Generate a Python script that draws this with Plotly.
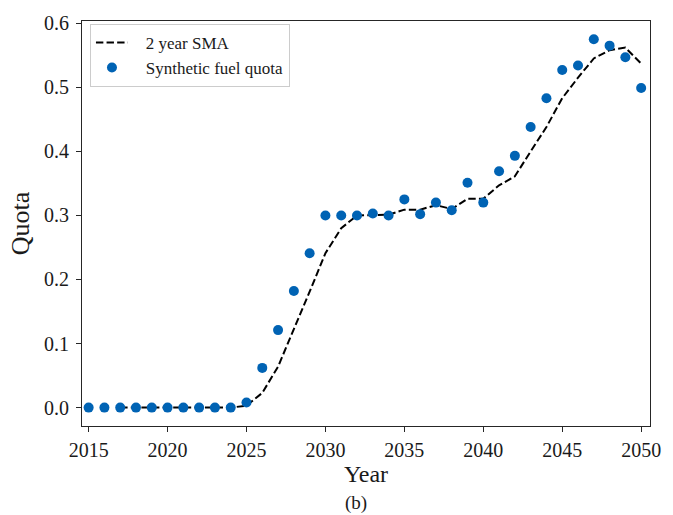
import plotly.graph_objects as go

# Annual synthetic fuel quota
years = list(range(2015, 2051))
quota = [
    0.0, 0.0, 0.0, 0.0, 0.0, 0.0, 0.0, 0.0, 0.0, 0.0,   # 2015-2024
    0.008, 0.062, 0.121, 0.182, 0.241,                    # 2025-2029
    0.300, 0.300, 0.300, 0.303, 0.300,                    # 2030-2034
    0.325, 0.302, 0.320, 0.308, 0.351,                    # 2035-2039
    0.320, 0.369, 0.393, 0.438, 0.483,                    # 2040-2044
    0.527, 0.534, 0.575, 0.565, 0.547,                    # 2045-2049
    0.499,                                                # 2050
]

# Moving-average curve, 2017-2050
sma_years = list(range(2017, 2051))
sma_values = [
    0.0, 0.0, 0.0, 0.0, 0.0, 0.0, 0.0, 0.0,               # 2017-2024
    0.003, 0.023, 0.064, 0.122, 0.181,                     # 2025-2029
    0.241, 0.280, 0.300, 0.301, 0.301,                     # 2030-2034
    0.309, 0.309, 0.316, 0.310, 0.326,                     # 2035-2039
    0.326, 0.347, 0.361, 0.400, 0.438,                     # 2040-2044
    0.483, 0.515, 0.545, 0.558, 0.562,                     # 2045-2049
    0.537,                                                 # 2050
]

x_ticks = [2015, 2020, 2025, 2030, 2035, 2040, 2045, 2050]
y_ticks = [0.0, 0.1, 0.2, 0.3, 0.4, 0.5, 0.6]

FONT = "Liberation Serif, Times New Roman, serif"
AXIS_COLOR = "#262626"
TEXT_COLOR = "#1a1a1a"
PAD = "\u00a0\u00a0\u00a0"  # extra gap between legend symbol and label

fig = go.Figure()

fig.add_trace(go.Scatter(
    x=sma_years, y=sma_values, mode="lines", name=PAD + "2 year SMA",
    line=dict(color="black", width=2, dash="7.4px,3.2px"),
))

fig.add_trace(go.Scatter(
    x=years, y=quota, mode="markers", name=PAD + "Synthetic fuel quota",
    marker=dict(color="#0063B4", size=10, line=dict(width=0)),
))

axis_common = dict(
    showline=True, linecolor=AXIS_COLOR, linewidth=1, mirror=True,
    ticks="outside", ticklen=5, tickwidth=1, tickcolor=AXIS_COLOR,
    showgrid=False, zeroline=False,
    tickfont=dict(family=FONT, size=20, color=TEXT_COLOR),
)

fig.update_xaxes(
    range=[2014.58, 2050.56], tickvals=x_ticks,
    ticktext=[str(v) for v in x_ticks], ticklabelstandoff=1,
    title=dict(text="Year", font=dict(family=FONT, size=24, color=TEXT_COLOR),
               standoff=0),
    **axis_common,
)
fig.update_yaxes(
    range=[-0.0287, 0.6035], tickvals=y_ticks, tickformat=".1f",
    ticklabelstandoff=3,
    title=dict(text="Quota", font=dict(family=FONT, size=26, color=TEXT_COLOR),
               standoff=6),
    **axis_common,
)

fig.add_annotation(
    text="(b)", xref="paper", yref="paper", x=0.483, y=-0.19,
    xanchor="center", yanchor="middle", showarrow=False,
    font=dict(family=FONT, size=19, color=TEXT_COLOR),
)

fig.update_layout(
    width=673, height=515,
    margin=dict(l=82, r=13, t=15, b=89),
    paper_bgcolor="white", plot_bgcolor="white",
    showlegend=True,
    legend=dict(
        x=0.014, y=0.993, xanchor="left", yanchor="top",
        bgcolor="white", bordercolor="#cccccc", borderwidth=1,
        font=dict(family=FONT, size=17, color=TEXT_COLOR),
        itemwidth=32,
    ),
)

fig.write_html("out.html")
